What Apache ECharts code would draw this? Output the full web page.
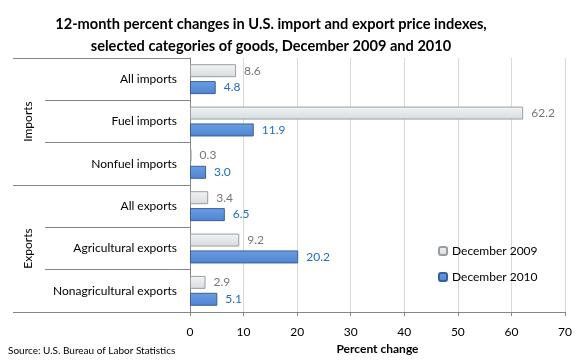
<!DOCTYPE html>
<html><head><meta charset="utf-8">
<script src="https://cdn.jsdelivr.net/npm/echarts@6/dist/echarts.min.js"></script>
<style>html,body{margin:0;padding:0;background:#fff}#c{width:580px;height:360px}</style>
</head><body><div id="c"></div>
<script>
const categories = ['All imports','Fuel imports','Nonfuel imports','All exports','Agricultural exports','Nonagricultural exports'];
const groups = ['Imports','Exports'];
const groupSizes = [3, 3];
const dec2009 = [8.6, 62.2, 0.3, 3.4, 9.2, 2.9];
const dec2010 = [4.8, 11.9, 3.0, 6.5, 20.2, 5.1];
const seriesNames = ['December 2009','December 2010'];
const xTicks = {min:0, max:70, interval:10};

const F = 'Lato, "Open Sans", sans-serif';
const chart = echarts.init(document.getElementById('c'));
chart.setOption({
  animation:false,
  textStyle:{fontFamily:F},
  title:{text:'12-month percent changes in U.S. import and export price indexes,\nselected categories of goods, December 2009 and 2010',
    left:266, textAlign:'center', top:8,
    textStyle:{fontFamily:F, fontSize:14.6, fontWeight:'bold', color:'#000', lineHeight:22}},
  grid:{left:190, right:15, top:58, bottom:48},
  legend:{orient:'vertical', left:433, top:240, itemWidth:8, itemHeight:8, itemGap:14,
    data:seriesNames, textStyle:{fontFamily:F, fontSize:12, color:'#000'}},
  xAxis:{type:'value', min:xTicks.min, max:xTicks.max, interval:xTicks.interval,
    name:'Percent change', nameLocation:'middle', nameGap:31,
    nameTextStyle:{fontFamily:F, fontSize:12, fontWeight:'bold', color:'#000'},
    axisLine:{show:true, lineStyle:{color:'#868686'}},
    axisTick:{show:true, length:4, lineStyle:{color:'#868686'}},
    axisLabel:{fontFamily:F, fontSize:12, color:'#000', margin:14},
    splitLine:{lineStyle:{color:'#d9d9d9'}}},
  yAxis:{type:'category', data:categories, inverse:true,
     axisLine:{show:true, lineStyle:{color:'#868686'}},
     axisTick:{show:true, length:145, lineStyle:{color:'#868686'}},
     axisLabel:{fontFamily:F, fontSize:12, color:'#000', margin:13}},
  series:[
    {name:seriesNames[0], type:'bar', data:dec2009, barWidth:13, barGap:'30%',
     itemStyle:{color:new echarts.graphic.LinearGradient(0,0,0,1,[{offset:0,color:'#f3f5f6'},{offset:1,color:'#d5dbde'}]),
       borderColor:'#9a9ea0', borderWidth:1},
     label:{show:true, position:'right', distance:8, fontFamily:F, fontSize:12, color:'#7b7470', formatter:p=>p.value.toFixed(1)}},
    {name:seriesNames[1], type:'bar', data:dec2010, barWidth:13, barGap:'30%',
     itemStyle:{color:new echarts.graphic.LinearGradient(0,0,0,1,[{offset:0,color:'#6a9de3'},{offset:1,color:'#4f84d1'}]),
       borderColor:'#3a5f96', borderWidth:1},
     label:{show:true, position:'right', distance:8, fontFamily:F, fontSize:12, color:'#1f6cc1', formatter:p=>p.value.toFixed(1)}}
  ]
});

// group separators and labels, positioned from the category axis
const c0 = chart.convertToPixel({yAxisIndex:0}, categories[0]);
const c1 = chart.convertToPixel({yAxisIndex:0}, categories[1]);
const step = c1 - c0;
const x0 = chart.convertToPixel({xAxisIndex:0}, 0);
const g = [];
let idx = 0;
const bounds = [c0 - step/2];
groupSizes.forEach((n, i) => {
  const top = c0 + (idx - 0.5) * step;
  idx += n;
  const bot = c0 + (idx - 0.5) * step;
  bounds.push(bot);
  g.push({type:'text', x:28, y:(top+bot)/2, rotation:Math.PI/2,
    style:{text:groups[i], font:'12px '+F, fill:'#000', align:'center', verticalAlign:'middle'}});
});
bounds.forEach(y => g.push({type:'line', shape:{x1:13, y1:Math.round(y)+0.5, x2:x0, y2:Math.round(y)+0.5},
  style:{stroke:'#868686', lineWidth:1}}));
g.push({type:'text', left:8, top:346, style:{text:'Source: U.S. Bureau of Labor Statistics', font:'10px '+F, fill:'#000'}});
chart.setOption({graphic:g});
</script></body></html>
